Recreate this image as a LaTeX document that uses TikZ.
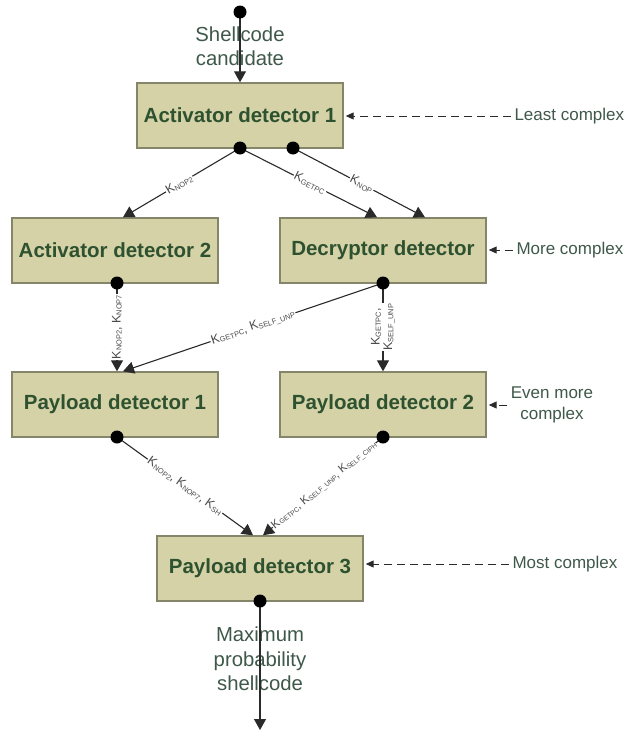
\documentclass[tikz,border=0pt]{standalone}
\usepackage{fontspec}
\setmainfont{Liberation Sans}
\usetikzlibrary{arrows.meta,calc}
\definecolor{boxfill}{HTML}{D5D2A7}
\definecolor{boxdraw}{HTML}{85856A}
\definecolor{boxtext}{HTML}{2E5230}
\definecolor{labtext}{HTML}{3E5849}
\definecolor{edgecol}{HTML}{2A2A2A}
\definecolor{ktext}{HTML}{4A4A4A}
\newcommand{\KK}[1]{K\kern0.1pt\raisebox{-1.2pt}{\fontsize{7.4}{7.4}\selectfont #1}}
\newcommand{\KS}[1]{K\kern0.1pt\raisebox{-1.1pt}{\fontsize{6.8}{6.8}\selectfont #1}}
\begin{document}
\begin{tikzpicture}[x=1pt,y=-1pt,
  detbox/.style={draw=boxdraw, line width=1.4pt, fill=boxfill, minimum width=206pt, minimum height=65pt, inner sep=0pt, font=\fontsize{20.5}{24}\selectfont\bfseries, text=boxtext},
  dotn/.style={circle, fill=black, inner sep=0pt, minimum size=13pt},
  flow/.style={draw=edgecol, line width=1.1pt, -{Triangle[width=12pt,length=11pt]}},
  klab/.style={font=\fontsize{12.5}{13}\selectfont, text=ktext, fill=white, inner sep=1pt},
  sidelab/.style={font=\fontsize{17}{20.5}\selectfont, text=labtext},
  flowlab/.style={font=\fontsize{20.3}{24.5}\selectfont, text=labtext, align=center},
  sidearrow/.style={draw=edgecol, line width=1pt, dash pattern=on 8pt off 5pt, -{Triangle[width=7pt,length=8pt]}, shorten >=2pt}
]
\useasboundingbox (0,0) rectangle (635,736);

% boxes
\node[detbox] (a1) at (240,115.5) {Activator detector 1};
\node[detbox] (a2) at (115,250.5) {Activator detector 2};
\node[detbox] (dec) at (383,250.5) {Decryptor detector};
\node[detbox] (p1) at (115,404.5) {Payload detector 1};
\node[detbox] (p2) at (383,404.5) {Payload detector 2};
\node[detbox] (p3) at (260,568.5) {Payload detector 3};

% connector start points
\coordinate (in) at (240,12);
\coordinate (a1d1) at (240,148);
\coordinate (a1d2) at (293,148);
\coordinate (a2d) at (117,283);
\coordinate (decd) at (383,283);
\coordinate (p1d) at (117,437);
\coordinate (p2d) at (383,437);
\coordinate (p3d) at (260,601);
\coordinate (out) at (260,730);

% flow labels
\node[flowlab] (inlab) at (240,46) {Shellcode\\candidate};
\node[flowlab] (outlab) at (260,659) {Maximum\\probability\\shellcode};

% connectors
\draw[flow] (in) -- (a1.north -| in);
\draw[flow] (a1d1) -- node[klab, sloped, pos=0.52] {\KK{NOP2}} ($(a2.north)+(8,0)$);
\draw[flow] (a1d1) -- node[klab, sloped, pos=0.51] {\KK{GETPC}} ($(dec.north)+(-6,0)$);
\draw[flow] (a1d2) -- node[klab, sloped, pos=0.52] {\KK{NOP}} ($(dec.north)+(42,0)$);
\draw[flow] (a2d) -- node[klab, rotate=90] {\KK{NOP2}, \KK{NOP7}} (p1.north -| a2d);
\draw[flow] (decd) -- node[klab, sloped, pos=0.5] {\KK{GETPC}, \KK{SELF\_UNP}} ($(p1.north)+(8,0)$);
\draw[flow] (decd) -- node[klab, rotate=90, align=center, font=\fontsize{12.5}{12.5}\selectfont] {\KK{GETPC},\\\KK{SELF\_UNP}} (p2.north -| decd);
\draw[flow] (p1d) -- node[klab, sloped, pos=0.5] {\KK{NOP2}, \KK{NOP7}, \KK{SH}} ($(p3.north)+(-7,0)$);
\draw[flow] (p2d) -- node[klab, sloped, pos=0.49, font=\fontsize{11.5}{12}\selectfont, inner sep=0.5pt] {\KS{GETPC}, \KS{SELF\_UNP}, \KS{SELF\_CIPH}} ($(p3.north)+(3,0)$);
\draw[flow] (p3d) -- (out);

% dots
\foreach \d in {in,a1d1,a1d2,a2d,decd,p1d,p2d,p3d}
  \node[dotn] at (\d) {};

% side labels
\node[sidelab, anchor=west] (l1) at (511,116) {Least complex};
\node[sidelab, anchor=west] (l2) at (513,250) {More complex};
\node[sidelab, align=center] (l3) at (552,405) {Even more\\complex};
\node[sidelab, anchor=west] (l4) at (509,564) {Most complex};
\draw[sidearrow] (l1.west) -- (l1.west -| a1.east);
\draw[sidearrow] (l2.west) -- (l2.west -| dec.east);
\draw[sidearrow] (l3.west) -- (l3.west -| p2.east);
\draw[sidearrow] (l4.west) -- (l4.west -| p3.east);
\end{tikzpicture}
\end{document}
